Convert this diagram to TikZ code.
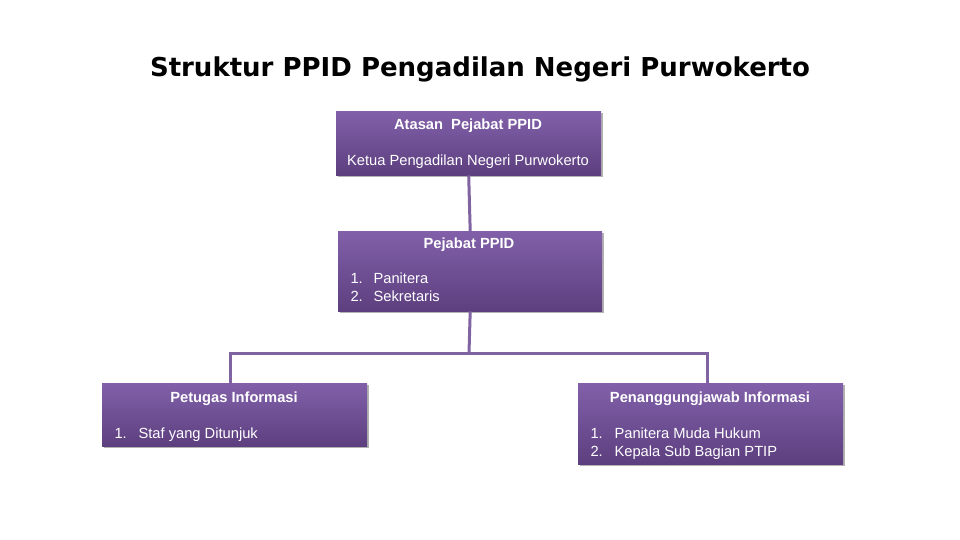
\documentclass[tikz,border=0pt]{standalone}
\usepackage{fontspec}
\setmainfont{Liberation Sans}
\newfontfamily\titlefont{DejaVu Sans}
\usetikzlibrary{shadows}
\definecolor{linep}{HTML}{8064A2}
\definecolor{boxtop}{HTML}{8160A9}
\definecolor{boxbot}{HTML}{5D3F7F}
\tikzset{
  x=1pt,y=-1pt,
  orgbox/.style={draw=none, top color=boxtop, bottom color=boxbot, anchor=north west,
    inner sep=0pt, drop shadow={shadow xshift=2pt, shadow yshift=-2pt, opacity=0.3, fill=black}},
  ttl/.style={text=white, font=\fontsize{14.7}{17}\selectfont\bfseries, anchor=base},
  itm/.style={text=white, font=\fontsize{14.7}{17}\selectfont, anchor=base west},
  conn/.style={draw=linep, line width=3pt}
}
\begin{document}
\begin{tikzpicture}
\useasboundingbox (0,0) rectangle (960,540);
\node[font=\titlefont\fontsize{26}{30}\selectfont\bfseries, anchor=base] (title) at (480,77) {Struktur PPID Pengadilan Negeri Purwokerto};

\node[orgbox, minimum width=265pt, minimum height=64pt] (b1) at (336,111) {};
\node[orgbox, minimum width=264pt, minimum height=80pt] (b2) at (338,231) {};
\node[orgbox, minimum width=265pt, minimum height=63pt] (b3) at (102,383) {};
\node[orgbox, minimum width=265pt, minimum height=81pt] (b4) at (578,383) {};

\coordinate (j) at (469,353);
\coordinate (jl) at (230,353);
\coordinate (jr) at (707,353);
\draw[conn] (b1.south) -- (b2.north);
\draw[conn] (b2.south) -- (j);
\draw[conn, line cap=rect] (jl) -- (jr);
\draw[conn] (jl) -- (jl |- b3.north);
\draw[conn] (jr) -- (jr |- b4.north);

\node[ttl] (t1) at (468,130) {Atasan\ \ Pejabat PPID};
\node[itm, anchor=base] (t1a) at (468,165) {Ketua Pengadilan Negeri Purwokerto};

\node[ttl] (t2) at (469,248) {Pejabat PPID};
\node[itm] (t2n1) at (347,283) {1.};
\node[itm] (t2a) at (370,283) {Panitera};
\node[itm] (t2n2) at (347,301) {2.};
\node[itm] (t2b) at (370,301) {Sekretaris};

\node[ttl] (t3) at (234,402) {Petugas Informasi};
\node[itm] (t3n1) at (111,438) {1.};
\node[itm] (t3a) at (135,438) {Staf yang Ditunjuk};

\node[ttl] (t4) at (710,402) {Penanggungjawab Informasi};
\node[itm] (t4n1) at (587,438) {1.};
\node[itm] (t4a) at (611,438) {Panitera Muda Hukum};
\node[itm] (t4n2) at (587,456) {2.};
\node[itm] (t4b) at (611,456) {Kepala Sub Bagian PTIP};
\end{tikzpicture}
\end{document}
